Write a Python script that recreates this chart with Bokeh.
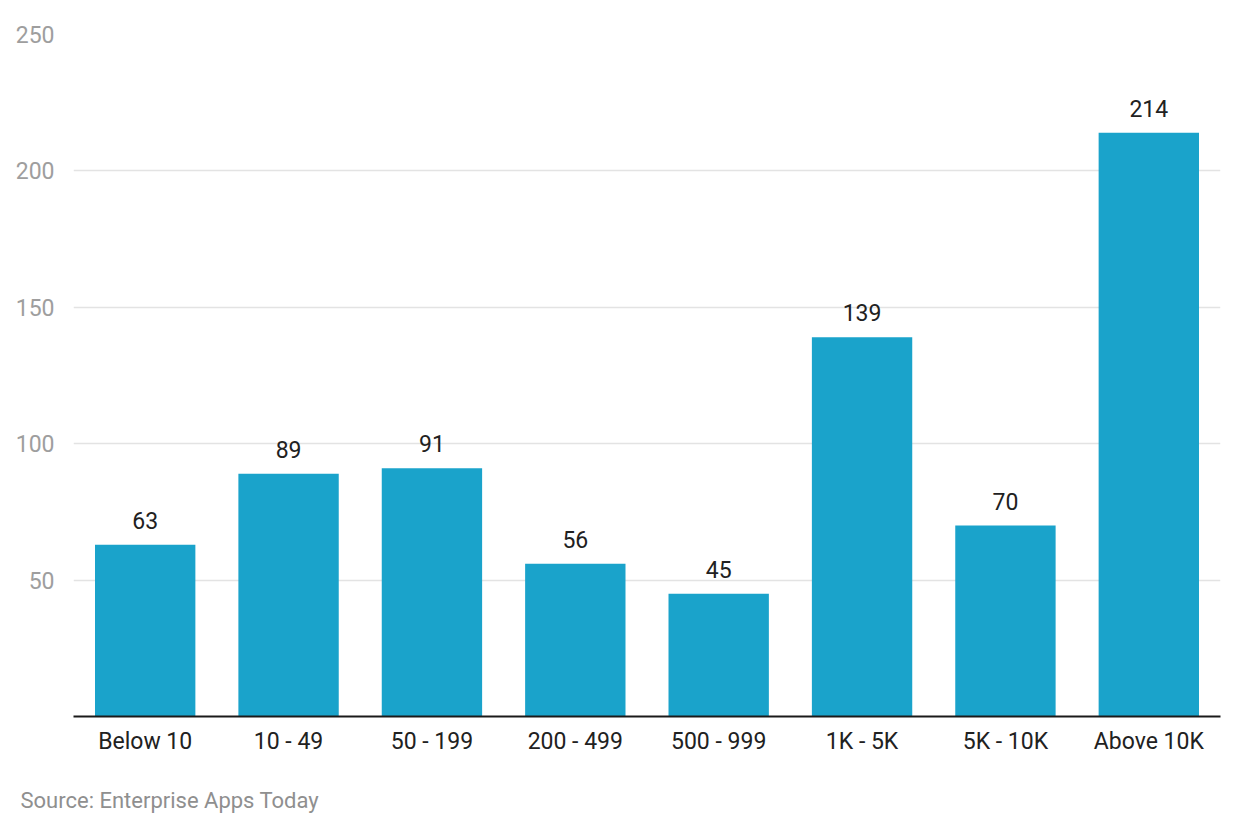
from bokeh.plotting import figure
from bokeh.models import ColumnDataSource, FixedTicker, Range1d, FactorRange, LabelSet, Title
from bokeh.core.properties import value
from bokeh.embed import file_html
from bokeh.resources import INLINE

categories = ["Below 10", "10 - 49", "50 - 199", "200 - 499", "500 - 999", "1K - 5K", "5K - 10K", "Above 10K"]
values = [63, 89, 91, 56, 45, 139, 70, 214]
y_ticks = [50, 100, 150, 200, 250]

FONT = "Roboto"

src = ColumnDataSource(dict(cat=categories, val=values, lbl=[str(v) for v in values]))

p = figure(x_range=FactorRange(*categories, range_padding=0), y_range=Range1d(0, 250),
           width=1232, height=840, output_backend="svg", toolbar_location=None,
           min_border_left=73, min_border_right=12, min_border_top=34, min_border_bottom=20)
p.outline_line_color = None
p.background_fill_color = "white"
p.border_fill_color = "white"

p.vbar(x="cat", top="val", width=0.7, source=src, color="#1aa3cb", line_color=None)

labels = LabelSet(x="cat", y="val", text="lbl", source=src, text_align="center",
                  text_baseline="alphabetic", y_offset=16, text_font=value(FONT),
                  text_font_size="23px", text_color="#212121")
p.add_layout(labels)

p.yaxis.ticker = FixedTicker(ticks=y_ticks)
p.yaxis.axis_line_color = None
p.yaxis.major_tick_line_color = None
p.yaxis.minor_tick_line_color = None
p.yaxis.major_label_text_font = FONT
p.yaxis.major_label_text_font_size = "23px"
p.yaxis.major_label_text_color = "#9e9e9e"
p.yaxis.major_label_standoff = 13

p.xaxis.axis_line_color = "#1a1a1a"
p.xaxis.axis_line_width = 2
p.xaxis.major_tick_line_color = None
p.xaxis.minor_tick_line_color = None
p.xaxis.major_label_text_font = FONT
p.xaxis.major_label_text_font_size = "23px"
p.xaxis.major_label_text_color = "#212121"
p.xaxis.major_label_standoff = 5

p.xgrid.grid_line_color = None
p.ygrid.ticker = FixedTicker(ticks=y_ticks)
p.ygrid.grid_line_color = "#e3e3e3"
p.ygrid.grid_line_width = 1.5

src_title = Title(text="Source: Enterprise Apps Today", align="left", offset=-53, standoff=56,
                  text_font=FONT, text_font_size="22px", text_font_style="normal",
                  text_color="#8f8f8f")
p.add_layout(src_title, "below")

open("out.html", "w").write(file_html(p, INLINE))
